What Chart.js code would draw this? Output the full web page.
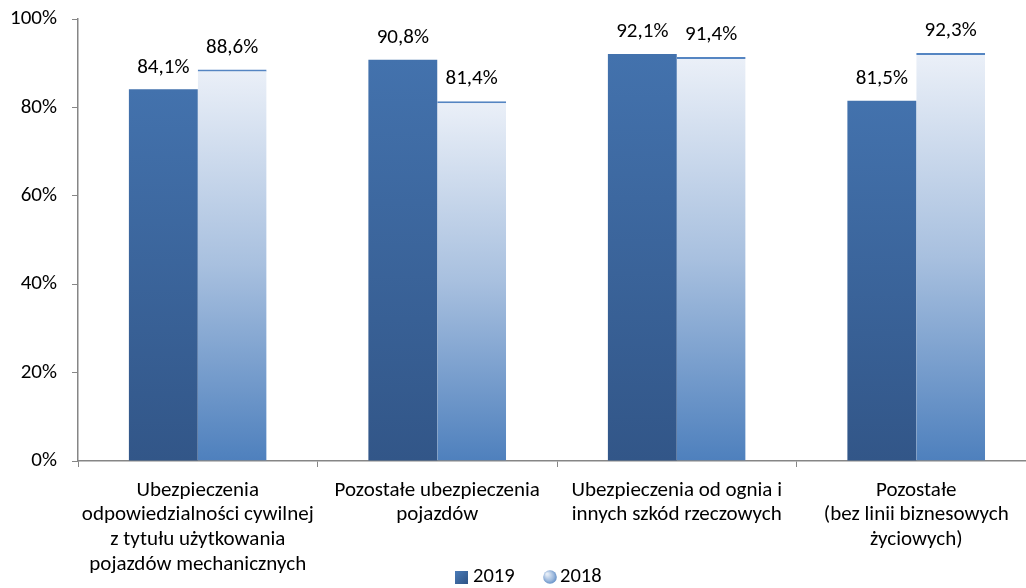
<!DOCTYPE html>
<html>
<head>
<meta charset="utf-8">
<script src="https://cdn.jsdelivr.net/npm/chart.js@4.4.1/dist/chart.umd.min.js"></script>
<style>
html,body{margin:0;padding:0;background:#fff;overflow:hidden;}
#wrap{width:1040px;height:588px;}
</style>
</head>
<body>
<div id="wrap"><canvas id="c" width="1040" height="588"></canvas></div>
<script>
const categories = [
  ["Ubezpieczenia","odpowiedzialności cywilnej","z tytułu użytkowania","pojazdów mechanicznych"],
  ["Pozostałe ubezpieczenia","pojazdów"],
  ["Ubezpieczenia od ognia i","innych szkód rzeczowych"],
  ["Pozostałe","(bez linii biznesowych","życiowych)"]
];
const seriesNames = ["2019","2018"];
const values2019 = [84.1, 90.8, 92.1, 81.5];
const values2018 = [88.6, 81.4, 91.4, 92.3];
const yTicks = [0, 20, 40, 60, 80, 100];

const FONT = "Carlito, Lato, 'Open Sans', sans-serif";
const fmt = v => v.toFixed(1).replace('.', ',') + '%';

function barGradient(ctx, stops) {
  const chart = ctx.chart;
  const ys = chart.scales && chart.scales.y;
  if (!chart.chartArea || !ys || ctx.parsed === undefined) return stops[stops.length - 1][1];
  const top = ys.getPixelForValue(ctx.parsed.y);
  const bottom = ys.getPixelForValue(0);
  const g = chart.ctx.createLinearGradient(0, top, 0, bottom);
  stops.forEach(s => g.addColorStop(s[0], s[1]));
  return g;
}

const dataLabels = {
  id: 'dataLabels',
  afterDatasetsDraw(chart) {
    const c = chart.ctx;
    c.save();
    c.font = "21px " + FONT;
    c.fillStyle = "#000";
    c.textAlign = "center";
    c.textBaseline = "middle";
    chart.data.datasets.forEach((ds, i) => {
      chart.getDatasetMeta(i).data.forEach((el, j) => {
        c.fillText(fmt(ds.data[j]), el.x, el.y - 22);
      });
    });
    c.restore();
  }
};

const customLegend = {
  id: 'customLegend',
  afterDraw(chart) {
    const c = chart.ctx;
    c.save();
    c.font = "20.5px " + FONT;
    c.fillStyle = "#000";
    c.textBaseline = "middle";
    c.textAlign = "left";
    const cy = 577;
    // 2019 square
    let g = c.createLinearGradient(455, 571, 468, 584);
    g.addColorStop(0, '#4a7bb8');
    g.addColorStop(1, '#2e5385');
    c.fillStyle = g;
    c.fillRect(455, 571, 13, 13);
    c.fillStyle = '#000';
    c.fillText(chart.data.datasets[0].label, 473, cy);
    // 2018 circle
    g = c.createRadialGradient(547, 574, 1, 550, 577, 8);
    g.addColorStop(0, '#e4ecf6');
    g.addColorStop(0.6, '#9ab7dc');
    g.addColorStop(1, '#5283c0');
    c.fillStyle = g;
    c.beginPath();
    c.arc(550, 577, 6.8, 0, Math.PI * 2);
    c.fill();
    c.fillStyle = '#000';
    c.fillText(chart.data.datasets[1].label, 560, cy);
    c.restore();
  }
};

new Chart(document.getElementById('c'), {
  type: 'bar',
  data: {
    labels: categories,
    datasets: [
      {
        label: seriesNames[0],
        data: values2019,
        backgroundColor: ctx => barGradient(ctx, [[0, '#4372ad'], [1, '#325688']]),
        borderWidth: 0
      },
      {
        label: seriesNames[1],
        data: values2018,
        backgroundColor: ctx => barGradient(ctx, [[0, '#ebf0f8'], [0.5, '#a8c0df'], [1, '#4e80bd']]),
        borderColor: '#5585c2',
        borderWidth: {top: 2, left: 0, right: 0, bottom: 0},
        borderSkipped: 'bottom'
      }
    ]
  },
  options: {
    responsive: false,
    animation: false,
    layout: {padding: {top: 19, right: 4, left: 0, bottom: 0}},
    datasets: {bar: {barPercentage: 1, categoryPercentage: 0.575}},
    plugins: {
      tooltip: {enabled: false},
      legend: {display: false}
    },
    scales: {
      x: {
        grid: {display: true, drawOnChartArea: false, drawTicks: true, tickLength: 6, color: '#868686', offset: true},
        border: {display: true, color: '#868686', width: 1.5},
        ticks: {font: {family: FONT, size: 21, lineHeight: 1.18}, color: '#000', padding: 11, maxRotation: 0, autoSkip: false},
        afterFit(s) { s.height = 127; s.paddingTop = 0; s.paddingBottom = 0; }
      },
      y: {
        min: 0, max: 100,
        afterBuildTicks(s) { s.ticks = yTicks.map(v => ({value: v})); },
        grid: {display: true, drawOnChartArea: false, drawTicks: true, tickLength: 6, color: '#868686'},
        border: {display: true, color: '#868686', width: 1.5},
        ticks: {font: {family: FONT, size: 21}, color: '#000', padding: 15, callback: v => v + '%'},
        afterFit(s) { s.width = 78; s.paddingTop = 0; s.paddingBottom = 0; }
      }
    }
  },
  plugins: [dataLabels, customLegend]
});
</script>
</body>
</html>
